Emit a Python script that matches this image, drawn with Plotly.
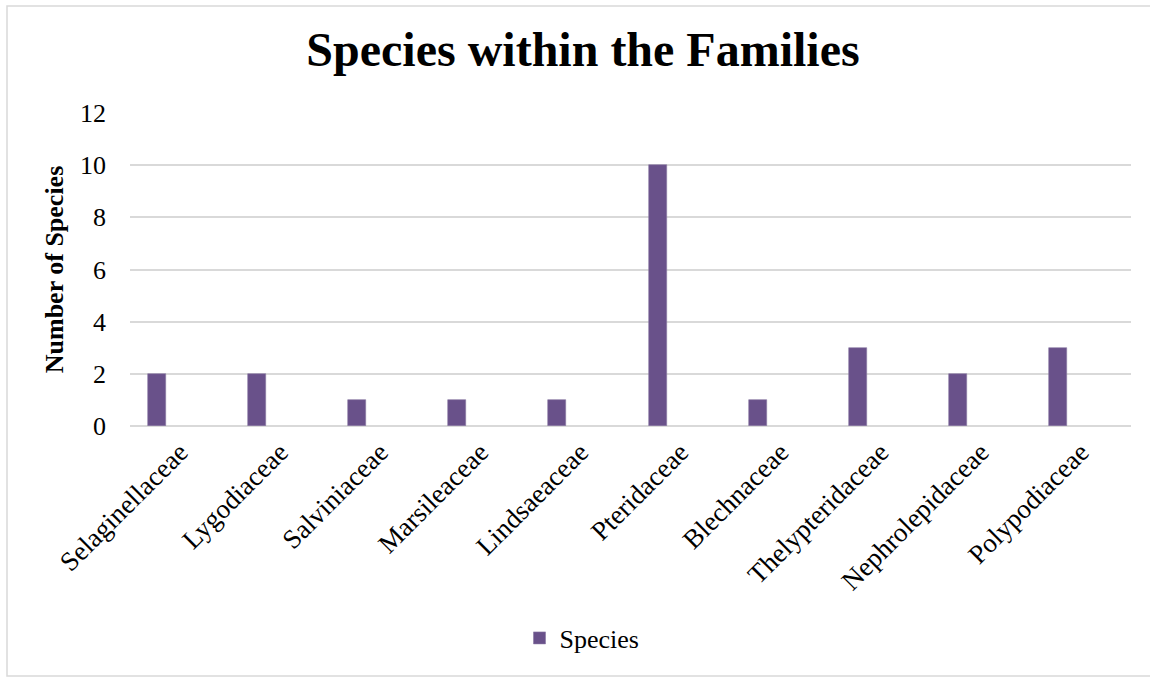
import plotly.graph_objects as go

# Fern families and the number of species recorded in each
families = [
    "Selaginellaceae", "Lygodiaceae", "Salviniaceae", "Marsileaceae",
    "Lindsaeaceae", "Pteridaceae", "Blechnaceae", "Thelypteridaceae",
    "Nephrolepidaceae", "Polypodiaceae",
]
species_counts = [2, 2, 1, 1, 1, 10, 1, 3, 2, 3]
y_ticks = [0, 2, 4, 6, 8, 10, 12]

W, H = 1150, 677
# plot area in pixels
PL, PR, PT, PB = 130, 1131, 113, 426
PW, PH = PR - PL, PB - PT

def px_x(x):
    return (x - PL) / PW

def px_y(y):
    return (PB - y) / PH

SERIF = "Liberation Serif, Times New Roman, serif"
BAR = "#69518A"
GRID = "#D9D9D9"

fig = go.Figure()
fig.add_trace(go.Bar(
    x=families,
    y=species_counts,
    name="Species",
    marker=dict(color=BAR, line=dict(color="#8A78A3", width=0.6)),
    width=0.18,
    offset=-0.32,
))

fig.update_layout(
    width=W, height=H,
    margin=dict(l=PL, r=W - PR, t=PT, b=H - PB, autoexpand=False),
    paper_bgcolor="white",
    plot_bgcolor="white",
    font=dict(family=SERIF, size=26, color="black"),
    title=dict(
        text="<b>Species within the Families</b>",
        font=dict(family=SERIF, size=48, color="black"),
        xref="container", yref="container",
        x=583 / W, xanchor="center",
        y=1 - 49 / H, yanchor="middle",
    ),
    showlegend=True,
    legend=dict(
        orientation="h",
        x=px_x(582), xanchor="center",
        y=px_y(638), yanchor="middle",
        font=dict(family=SERIF, size=26, color="black"),
        itemwidth=30,
    ),
    bargap=0,
)

fig.update_xaxes(
    type="category",
    tickangle=-45,
    tickfont=dict(family=SERIF, size=27, color="black"),
    showgrid=False,
    showline=False,
    ticks="",
    ticklabelstandoff=4,
    automargin=False,
    range=[-0.5, len(families) - 0.5],
)

fig.update_yaxes(
    range=[0, 12],
    tickvals=y_ticks,
    ticktext=[str(v) for v in y_ticks],
    tickfont=dict(family=SERIF, size=26, color="black"),
    showgrid=True,
    gridcolor=GRID,
    gridwidth=1.5,
    zeroline=True,
    zerolinecolor=GRID,
    zerolinewidth=1.5,
    showline=False,
    ticks="",
    ticklabelstandoff=23,
    automargin=False,
    title=dict(
        text="<b>Number of Species</b>",
        font=dict(family=SERIF, size=26, color="black"),
        standoff=8,
    ),
)

# light frame around the whole chart
fig.add_shape(
    type="rect", xref="paper", yref="paper",
    x0=px_x(7), x1=px_x(1152), y0=px_y(676), y1=px_y(6),
    line=dict(color=GRID, width=1.5),
    fillcolor="rgba(0,0,0,0)",
    layer="below",
)

fig.write_html("out.html")
